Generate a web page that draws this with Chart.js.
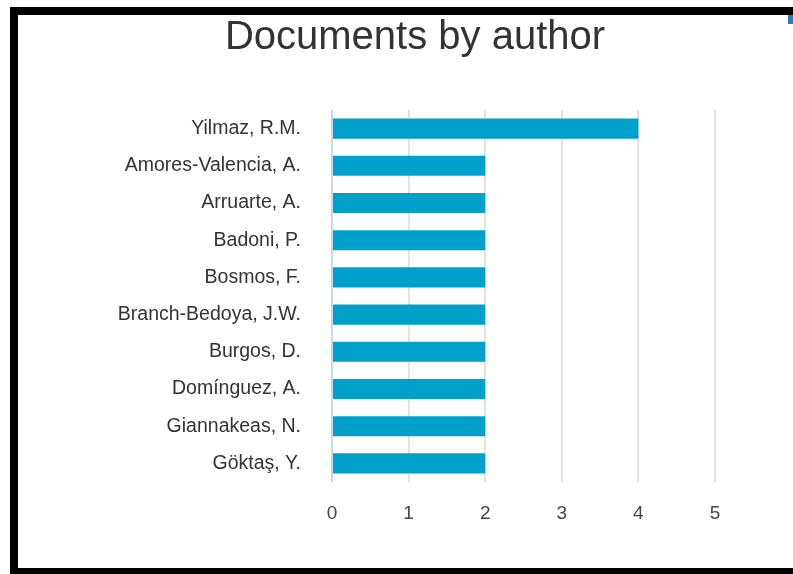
<!DOCTYPE html>
<html>
<head>
<meta charset="utf-8">
<script src="https://cdn.jsdelivr.net/npm/chart.js@4/dist/chart.umd.min.js"></script>
<style>
  html, body { margin: 0; padding: 0; background: #fff; overflow: hidden; width: 793px; height: 574px; }
  #frame {
    position: absolute; left: 10px; top: 7px;
    width: 794px; height: 553px;
    border-left: 8px solid #000; border-top: 8px solid #000; border-bottom: 6px solid #000;
  }
  #authorChart { display: block; width: 794px; height: 553px; }
  #mark { position: absolute; left: 788px; top: 15px; width: 5px; height: 9px; background: #2a7fb8; }
</style>
</head>
<body>
<div id="frame"><canvas id="authorChart" width="794" height="553"></canvas></div>
<div id="mark"></div>
<script>
const authors = ['Yilmaz, R.M.', 'Amores-Valencia, A.', 'Arruarte, A.', 'Badoni, P.', 'Bosmos, F.',
                 'Branch-Bedoya, J.W.', 'Burgos, D.', 'Domínguez, A.', 'Giannakeas, N.', 'Göktaş, Y.'];
const documents = [4, 2, 2, 2, 2, 2, 2, 2, 2, 2];
const xTicks = ['0', '1', '2', '3', '4', '5'];

const fontFamily = '"Liberation Sans", Arial, sans-serif';

document.addEventListener('DOMContentLoaded', function() {
    const ctx = document.getElementById('authorChart').getContext('2d');

    new Chart(ctx, {
        type: 'bar',
        data: {
            labels: authors,
            datasets: [{
                label: 'Documents',
                data: documents,
                backgroundColor: '#00a0cc',
                categoryPercentage: 1,
                barPercentage: 0.54
            }]
        },
        options: {
            indexAxis: 'y',
            responsive: false,
            maintainAspectRatio: false,
            animation: false,
            // left padding keeps the title centred where the original had it
            layout: { padding: { left: 97, right: 97, top: 0, bottom: 0 } },
            plugins: {
                legend: { display: false },
                tooltip: { enabled: false },
                title: {
                    display: true,
                    text: 'Documents by author',
                    color: '#333333',
                    font: { family: fontFamily, size: 40, weight: 'normal', lineHeight: 1 },
                    padding: { top: 3, bottom: 52 }
                }
            },
            scales: {
                x: {
                    min: 0,
                    max: 5,
                    afterFit: function(scale) { scale.height = 86; },
                    grid: {
                        drawTicks: false,
                        lineWidth: 2,
                        color: c => (c.tick && c.tick.value === 0) ? '#ccd6eb' : '#e3e3e3'
                    },
                    border: { display: false },
                    ticks: {
                        stepSize: 1,
                        padding: 20,
                        color: '#444444',
                        font: { family: fontFamily, size: 19 },
                        callback: (value, i) => xTicks[i]
                    }
                },
                y: {
                    afterFit: function(scale) { scale.width = 217; },
                    grid: { display: false, drawTicks: false },
                    border: { display: false },
                    ticks: {
                        padding: 31,
                        color: '#333333',
                        font: { family: fontFamily, size: 19.5 }
                    }
                }
            }
        }
    });
});
</script>
</body>
</html>
